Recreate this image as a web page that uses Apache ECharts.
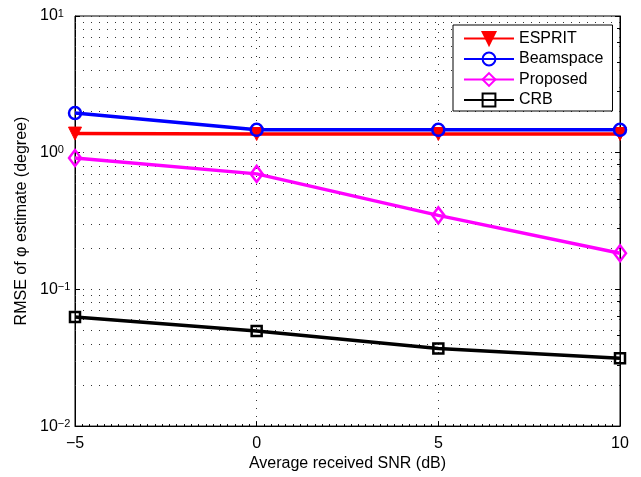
<!DOCTYPE html>
<html>
<head>
<meta charset="utf-8">
<script src="https://cdn.jsdelivr.net/npm/echarts@6/dist/echarts.min.js"></script>
<style>
  html, body { margin: 0; padding: 0; background: #fff; }
  #chart { width: 641px; height: 477px; }
</style>
</head>
<body>
<div id="chart"></div>
<script>
// data
var snr = [-5, 0, 5, 10];
var esprit = [1.38, 1.37, 1.37, 1.37];
var beamspace = [1.95, 1.47, 1.47, 1.47];
var proposed = [0.915, 0.70, 0.348, 0.184];
var crb = [0.0628, 0.0496, 0.0369, 0.0313];

var font = 'Liberation Sans, Arial, Helvetica, sans-serif';
var clear = 'rgba(0,0,0,0)';

function pairs(ys) {
    return snr.map(function (x, i) { return [x, ys[i]]; });
}

// dotted minor grid at 2..9 x 10^k
var minorLines = [];
for (var k = -2; k < 1; k++) {
    for (var m = 2; m <= 9; m++) {
        minorLines.push({ yAxis: m * Math.pow(10, k) });
    }
}

var dotted = { color: '#333', width: 1, type: [1, 7] };

function mkSeries(name, ys, color, symbol, extra) {
    var s = {
        name: name,
        type: 'line',
        data: pairs(ys),
        symbol: symbol,
        symbolSize: 12,
        showSymbol: true,
        lineStyle: { color: color, width: 3.5 },
        itemStyle: { color: clear, borderColor: color, borderWidth: 2.5 },
        emphasis: { disabled: true },
        z: 3
    };
    for (var key in extra) s[key] = extra[key];
    return s;
}

var series = [
    mkSeries('ESPRIT', esprit, '#ff0000', 'triangle', {
        symbolRotate: 180,
        symbolSize: [13, 13],
        itemStyle: { color: '#ff0000', borderColor: '#ff0000', borderWidth: 1 }
    }),
    mkSeries('Beamspace', beamspace, '#0000ff', 'circle', {}),
    mkSeries('Proposed', proposed, '#ff00ff', 'diamond', { symbolSize: [12, 16] }),
    mkSeries('CRB', crb, '#000000', 'rect', { symbolSize: 10 })
];
// gridlines hung on the first series
series[0].markLine = {
    silent: true,
    symbol: 'none',
    label: { show: false },
    lineStyle: dotted,
    animation: false,
    z: 1,
    data: minorLines
};

var chart = echarts.init(document.getElementById('chart'));
chart.setOption({
    animation: false,
    backgroundColor: '#fff',
    textStyle: { fontFamily: font },
    grid: {
        left: 75, right: 21, top: 16, bottom: 50,
        show: true, borderColor: '#000', borderWidth: 1
    },
    legend: {
        orient: 'vertical',
        left: 453, top: 25,
        backgroundColor: '#fff',
        borderColor: '#000',
        borderWidth: 1,
        padding: [5.5, 9, 3, 10],
        itemWidth: 50,
        itemHeight: 16,
        itemGap: 4.5,
        textStyle: { fontSize: 16, lineHeight: 16, color: '#000', fontFamily: font },
        data: ['ESPRIT', 'Beamspace', 'Proposed', 'CRB']
    },
    xAxis: {
        type: 'value',
        min: -5, max: 10, interval: 5,
        name: 'Average received SNR (dB)',
        nameLocation: 'middle',
        nameGap: 27,
        nameTextStyle: { fontSize: 16, color: '#000', fontFamily: font },
        axisLine: { onZero: false, lineStyle: { color: '#000', width: 1 } },
        axisTick: { inside: true, length: 5, lineStyle: { color: '#000' } },
        minorTick: { show: true, splitNumber: 25, length: 2, lineStyle: { color: '#000' } },
        axisLabel: {
            fontSize: 16, color: '#000', margin: 9,
            formatter: function (v) { return v < 0 ? '\u2212' + (-v) : String(v); }
        },
        splitLine: { show: true, lineStyle: dotted }
    },
    yAxis: [{
        type: 'log',
        logBase: 10,
        min: 0.01, max: 10,
        name: 'RMSE of \u03c6 estimate (degree)',
        nameLocation: 'middle',
        nameGap: 44,
        nameTextStyle: { fontSize: 16, color: '#000', fontFamily: font },
        axisLine: { show: true, onZero: false, lineStyle: { color: '#000', width: 1 } },
        axisTick: { inside: true, length: 5, lineStyle: { color: '#000' } },
        axisLabel: {
            color: '#000', margin: 35, align: 'left',
            formatter: function (v) {
                var e = Math.round(Math.log10(v));
                return '{b|10}{s|' + (e < 0 ? '\u2212' + (-e) : e) + '}';
            },
            rich: {
                b: { fontSize: 16, lineHeight: 16, color: '#000', fontFamily: font, verticalAlign: 'bottom', padding: [4, 0, 0, 0] },
                s: { fontSize: 11, lineHeight: 11, color: '#000', fontFamily: font, verticalAlign: 'top' }
            }
        },
        splitLine: { show: true, lineStyle: dotted }
    }, {
        type: 'log',
        logBase: 10,
        min: 0.01, max: 10,
        position: 'right',
        axisLine: { show: true, onZero: false, lineStyle: { color: '#000', width: 1 } },
        axisTick: { inside: true, length: 5, lineStyle: { color: '#000' } },
        minorTick: { show: true, length: 3, lineStyle: { color: '#000' } },
        axisLabel: { show: false },
        splitLine: { show: false }
    }],
    series: series
});
</script>
</body>
</html>
